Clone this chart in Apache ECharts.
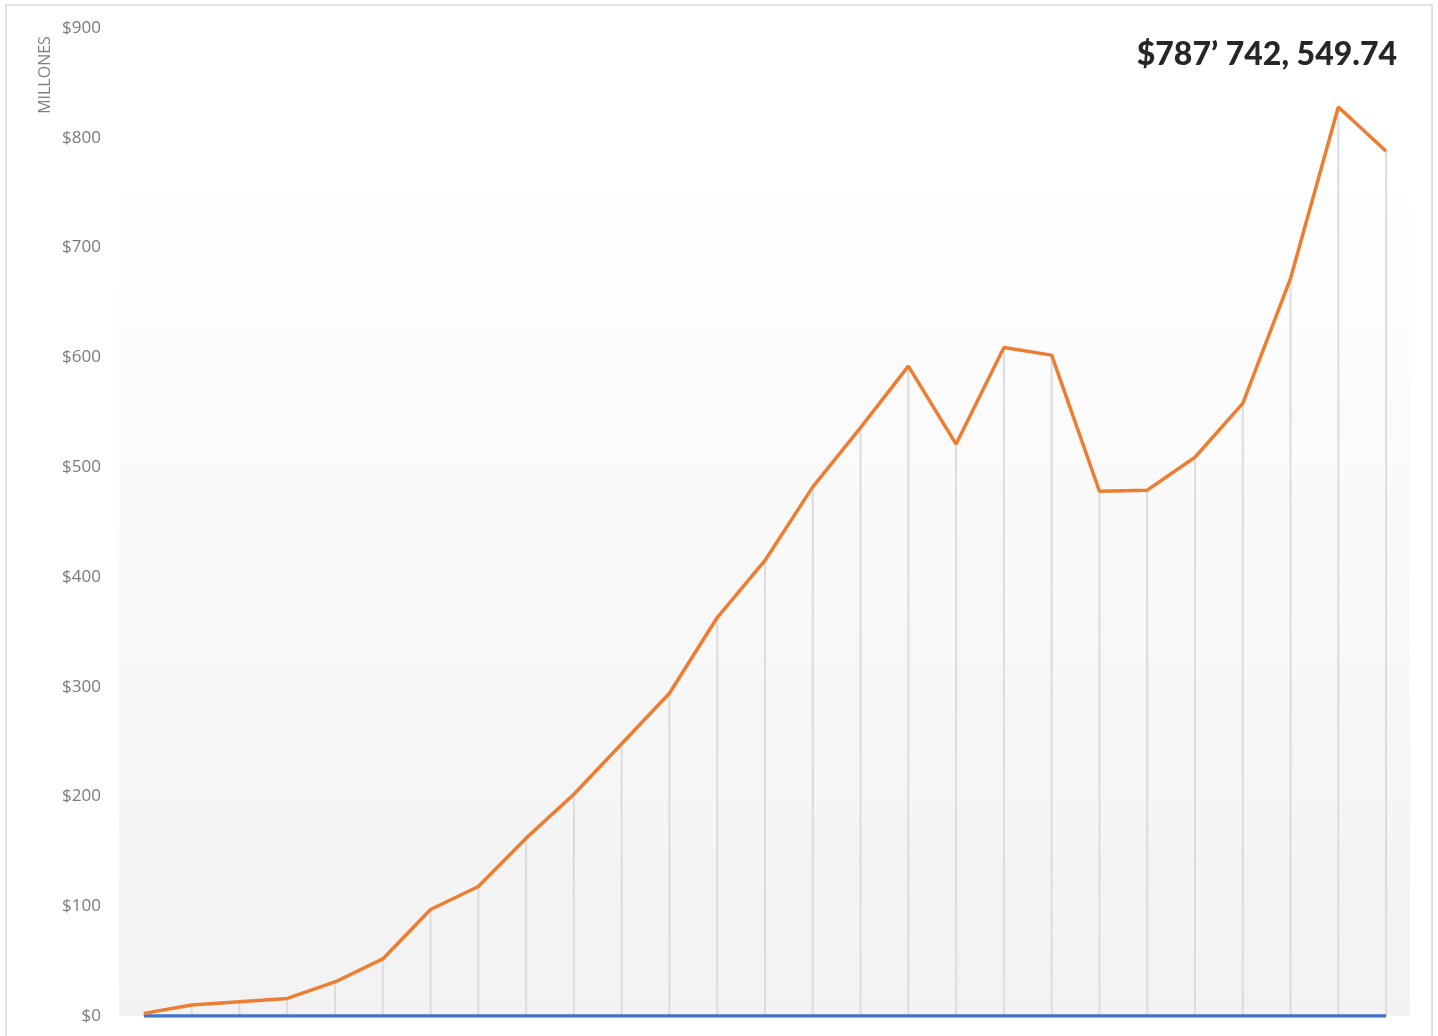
<!DOCTYPE html>
<html>
<head>
<meta charset="utf-8">
<script src="https://cdn.jsdelivr.net/npm/echarts@6/dist/echarts.min.js"></script>
<style>
  html,body{margin:0;padding:0;background:#fff;}
  #chart{width:1438px;height:1036px;}
</style>
</head>
<body>
<div id="chart"></div>
<script>
// data (millones)
const periods = Array.from({length: 27}, (_, i) => "P" + (i + 1));
const totals = [2.4, 10, 13, 16, 31, 52, 97, 118, 162, 202, 248, 294, 363, 415, 482, 536,
                592, 521, 609, 602, 478, 479, 509, 558, 672, 828, 787.74];
const baseline = periods.map(() => 0);
const yTicks = [0, 100, 200, 300, 400, 500, 600, 700, 800, 900];
const headline = "$787’ 742, 549.74";

const chart = echarts.init(document.getElementById("chart"));

chart.setOption({
  backgroundColor: "#fff",
  animation: false,
  grid: { left: 120, right: 28, top: 28, bottom: 20 },
  graphic: [
    { type: "rect", z: -10, shape: { x: 6, y: 5, width: 1426, height: 1040 },
      style: { fill: "#fff", stroke: "#d9d9d9", lineWidth: 1.5 } },
    { type: "rect", z: -5, shape: { x: 119, y: 137, width: 1291, height: 879 },
      style: { fill: new echarts.graphic.LinearGradient(0, 0, 0, 1, [
        { offset: 0, color: "#ffffff" }, { offset: 1, color: "#f2f2f2" }]) } },
    { type: "text", right: 41, top: 39,
      style: { text: headline, font: "900 32px Lato, 'Open Sans', sans-serif", fill: "#262626" } },
    { type: "text", x: 45, y: 75, rotation: Math.PI / 2,
      style: { text: "MILLONES", font: "16px 'Open Sans', sans-serif", fill: "#808080",
               align: "center", verticalAlign: "middle" } }
  ],
  xAxis: {
    type: "category", data: periods, boundaryGap: true,
    axisLine: { show: false }, axisTick: { show: false }, axisLabel: { show: false },
    splitLine: { show: false }
  },
  yAxis: {
    type: "value", min: 0, max: 900, interval: 100,
    axisLine: { show: false }, axisTick: { show: false }, splitLine: { show: false },
    axisLabel: {
      color: "#7a7a7a", fontSize: 17, fontFamily: "'Open Sans', sans-serif", margin: 19,
      formatter: (v) => yTicks.includes(v) ? "$" + v : ""
    }
  },
  series: [
    { type: "bar", data: totals, barWidth: 2, silent: true, z: 1,
      itemStyle: { color: "#dcdcdc" } },
    { type: "line", data: baseline, symbol: "none", z: 3,
      lineStyle: { color: "#4472C4", width: 3.5 } },
    { type: "line", data: totals, symbol: "none", z: 4,
      lineStyle: { color: "#ED7D31", width: 3.5 } }
  ]
});
</script>
</body>
</html>
